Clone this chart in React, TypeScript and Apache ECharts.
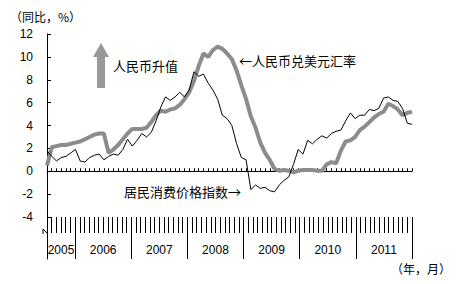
import React, { useEffect, useRef } from 'react';
import * as echarts from 'echarts';

// Years shown on the bottom ruler (data starts July 2005)
const years = ['2005', '2006', '2007', '2008', '2009', '2010', '2011'];
const firstMonthOfFirstYear = 7;

// Monthly categories Jul 2005 .. Dec 2011
const categories: string[] = years.flatMap((y, k) => {
  const out: string[] = [];
  for (let m = k === 0 ? firstMonthOfFirstYear : 1; m <= 12; m++) out.push(`${y}-${m}`);
  return out;
});

// RMB vs USD, y/y % (thick gray line)
const rmbRate = [
  0.5, 2.1, 2.2, 2.3, 2.3, 2.4,
  2.5, 2.6, 2.8, 3.0, 3.2, 3.3, 3.3, 1.6, 1.9, 2.3, 2.8, 3.3,
  3.7, 3.7, 3.7, 3.8, 4.3, 4.9, 5.3, 5.2, 5.4, 5.5, 5.8, 6.3,
  6.9, 7.9, 9.2, 10.3, 10.0, 10.6, 10.9, 10.7, 10.3, 9.8, 8.8, 7.5,
  6.3, 4.8, 3.8, 2.5, 1.6, 1.0, 0.2, 0.05, 0.1, 0.05, -0.1, 0.05,
  0.1, 0.1, 0.1, 0.05, 0.05, 0.6, 0.8, 0.7, 1.8, 2.6, 2.7, 3.0,
  3.6, 3.9, 4.3, 4.7, 5.0, 5.2, 5.9, 5.7, 5.4, 4.9, 5.1, 5.2,
];

// Consumer price index, y/y % (thin black line)
const cpi = [
  1.8, 1.3, 0.9, 1.2, 1.3, 1.6,
  1.9, 0.9, 0.8, 1.2, 1.4, 1.5, 1.0, 1.3, 1.5, 1.4, 1.9, 2.8,
  2.2, 2.7, 3.3, 3.0, 3.4, 4.4, 5.6, 6.5, 6.2, 6.5, 6.9, 6.5,
  7.1, 8.7, 8.3, 8.5, 7.7, 7.1, 6.3, 4.9, 4.6, 4.0, 2.4, 1.2,
  1.0, -1.6, -1.2, -1.5, -1.4, -1.7, -1.8, -1.2, -0.8, -0.5, 0.6, 1.9,
  1.5, 2.7, 2.4, 2.8, 3.1, 2.9, 3.3, 3.5, 3.6, 4.4, 5.1, 4.6,
  4.9, 4.9, 5.4, 5.3, 5.5, 6.4, 6.5, 6.2, 6.1, 5.5, 4.2, 4.1,
];

const yMin = -4;
const yMax = 12;
const yStep = 2;

const CJK = 'Noto Sans CJK SC';
const LATIN = 'Liberation Sans';

export default function App() {
  const ref = useRef<HTMLDivElement>(null);

  useEffect(() => {
    if (!ref.current) return;
    const chart = echarts.init(ref.current, undefined, { renderer: 'svg' });

    // year boundaries & label centres derived from categories
    const yearStartIdx: Record<number, boolean> = {};
    const yearLabelAt: Record<number, string> = {};
    years.forEach((y) => {
      const idxs = categories.map((c, i) => (c.startsWith(y + '-') ? i : -1)).filter((i) => i >= 0);
      const first = idxs[0];
      const last = idxs[idxs.length - 1];
      yearStartIdx[first] = true;
      yearLabelAt[(first + last + 1) / 2] = y;
    });

    const black = '#000';
    const option: any = {
      animation: false,
      grid: [
        { left: 47, top: 34, width: 365, height: 183 },
        { left: 47, top: 217, width: 365, height: 42 },
      ],
      xAxis: [
        {
          type: 'category',
          gridIndex: 0,
          data: categories,
          boundaryGap: false,
          axisLine: { onZero: true, lineStyle: { color: black, width: 1 } },
          axisTick: { show: true, inside: true, length: 3, interval: 0, lineStyle: { color: black } },
          axisLabel: { show: false },
          splitLine: { show: false },
        },
        {
          type: 'category',
          gridIndex: 1,
          data: categories,
          boundaryGap: true,
          position: 'top',
          axisLine: { show: false, onZero: false },
          axisTick: { show: true, inside: true, length: 16, interval: 0, lineStyle: { color: black } },
          axisLabel: { show: false },
          splitLine: { show: false },
        },
        {
          type: 'category',
          gridIndex: 1,
          data: categories,
          boundaryGap: true,
          position: 'top',
          axisLine: { show: false, onZero: false },
          axisTick: {
            show: true,
            inside: true,
            length: 42,
            interval: (i: number) => !!yearStartIdx[i],
            lineStyle: { color: black },
          },
          axisLabel: { show: false },
          splitLine: { show: false },
        },
        {
          type: 'value',
          gridIndex: 1,
          min: 0,
          max: categories.length,
          interval: 3,
          position: 'bottom',
          offset: -17,
          axisLine: { show: false, onZero: false },
          axisTick: { show: false },
          splitLine: { show: false },
          axisLabel: {
            show: true,
            margin: 2,
            fontSize: 12,
            fontFamily: LATIN,
            color: black,
            formatter: (v: number) => yearLabelAt[v] || '',
          },
        },
      ],
      yAxis: [
        {
          type: 'value',
          gridIndex: 0,
          min: yMin,
          max: yMax,
          interval: yStep,
          axisLine: { show: true, onZero: false, lineStyle: { color: black, width: 1 } },
          axisTick: { show: true, inside: true, length: 4, lineStyle: { color: black } },
          axisLabel: { margin: 14, fontSize: 12, fontFamily: LATIN, color: black },
          splitLine: { show: false },
        },
        {
          type: 'value',
          gridIndex: 1,
          min: 0,
          max: 1,
          axisLine: { show: true, onZero: false, lineStyle: { color: black, width: 1 } },
          axisTick: { show: false },
          axisLabel: { show: false },
          splitLine: { show: false },
        },
      ],
      series: [
        {
          name: '人民币兑美元汇率',
          type: 'line',
          xAxisIndex: 0,
          yAxisIndex: 0,
          data: rmbRate,
          symbol: 'none',
          lineStyle: { color: '#8c8c8c', width: 4 },
          z: 2,
        },
        {
          name: '居民消费价格指数',
          type: 'line',
          xAxisIndex: 0,
          yAxisIndex: 0,
          data: cpi,
          symbol: 'none',
          lineStyle: { color: black, width: 1 },
          z: 3,
        },
      ],
      graphic: [
        {
          type: 'text',
          x: 10,
          y: 16,
          style: { text: '（同比，%）', fontSize: 12, fontFamily: CJK, fill: black, verticalAlign: 'middle' },
        },
        {
          type: 'text',
          x: 391,
          y: 268,
          style: { text: '（年，月）', fontSize: 12, fontFamily: CJK, fill: black, verticalAlign: 'middle' },
        },
        {
          type: 'polygon',
          shape: {
            points: [
              [101, 43],
              [109, 57],
              [105, 57],
              [105, 88],
              [97, 88],
              [97, 57],
              [93, 57],
            ],
          },
          style: { fill: '#999999' },
        },
        {
          type: 'text',
          x: 113,
          y: 65,
          style: { text: '人民币升值', fontSize: 13, fontFamily: CJK, fill: black, verticalAlign: 'middle' },
        },
        {
          type: 'text',
          x: 239,
          y: 60,
          style: { text: '←人民币兑美元汇率', fontSize: 13, fontFamily: CJK, fill: black, verticalAlign: 'middle' },
        },
        {
          type: 'text',
          x: 124,
          y: 191,
          style: { text: '居民消费价格指数→', fontSize: 13, fontFamily: CJK, fill: black, verticalAlign: 'middle' },
        },
        {
          type: 'polyline',
          shape: { points: [[43, 234], [43, 229], [48, 234]] },
          style: { stroke: black, lineWidth: 1, fill: 'none' },
        },
      ],
    };

    chart.setOption(option);
    return () => chart.dispose();
  }, []);

  return (
    <div
      ref={ref}
      style={{ position: 'absolute', left: 0, top: 0, width: 464, height: 284, background: '#fff' }}
    />
  );
}
